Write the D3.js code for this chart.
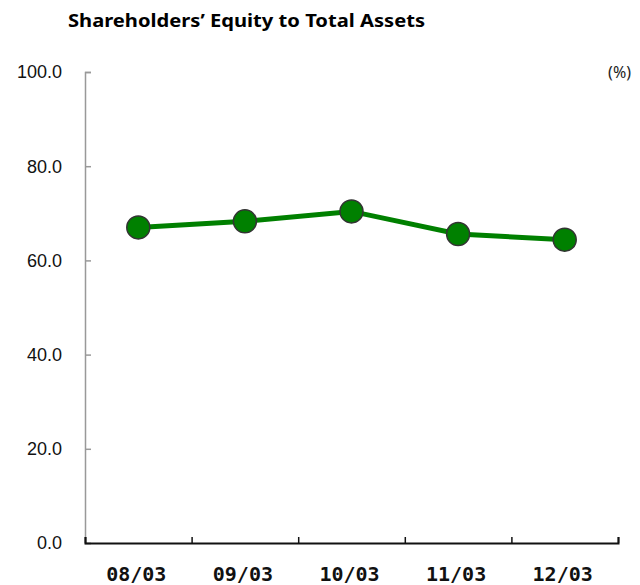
<!DOCTYPE html>
<html lang="en">
<head>
    <meta charset="UTF-8">
    <title>Shareholders' Equity to Total Assets</title>
    <style>
        body { margin: 0; background: #fff; }
        svg { display: block; }
    </style>
</head>
<body>
    <svg id="chart" width="640" height="585"></svg>
    <script src="https://d3js.org/d3.v7.min.js"></script>
    <script>
        // Data
        var periods = ["08/03", "09/03", "10/03", "11/03", "12/03"];
        var equityRatio = [67.0, 68.3, 70.4, 65.6, 64.4];
        var yTicks = [0, 20, 40, 60, 80, 100];

        var margin = { top: 72, right: 22, bottom: 42, left: 85 },
            width = 640 - margin.left - margin.right,
            height = 585 - margin.top - margin.bottom;

        var svg = d3.select("#chart");

        // Title
        svg.append("text")
            .attr("x", 68)
            .attr("y", 27)
            .style("font-family", "'Noto Sans', sans-serif")
            .style("font-weight", "bold")
            .style("font-size", "18px")
            .attr("textLength", 357)
            .attr("lengthAdjust", "spacingAndGlyphs")
            .text("Shareholders’ Equity to Total Assets");

        // Unit label
        svg.append("text")
            .attr("x", 631)
            .attr("y", 78)
            .style("text-anchor", "end")
            .style("font-family", "'Noto Sans', sans-serif")
            .style("font-size", "16px")
            .style("fill", "#222")
            .text("(%)");

        var g = svg.append("g")
            .attr("transform", "translate(" + margin.left + "," + margin.top + ")");

        var x = d3.scaleBand()
            .domain(periods)
            .range([0, width]);

        var y = d3.scaleLinear()
            .domain([0, 100])
            .range([height, 0]);

        // Y axis (gray, ticks pointing inward)
        var yAxis = g.append("g")
            .call(d3.axisRight(y).tickValues(yTicks).tickSize(6).tickFormat(""));
        yAxis.select(".domain").attr("stroke", "#999").attr("stroke-width", 1.5);
        yAxis.selectAll(".tick line").attr("stroke", "#999").attr("stroke-width", 1.5);

        // Y labels
        g.selectAll(".ylabel")
            .data(yTicks)
            .enter().append("text")
            .attr("class", "ylabel")
            .attr("x", -23)
            .attr("y", function(d) { return y(d); })
            .attr("dy", "0.36em")
            .style("text-anchor", "end")
            .style("font-family", "'Liberation Sans', Arial, sans-serif")
            .style("font-size", "18px")
            .style("fill", "#111")
            .text(function(d) { return d.toFixed(1); });

        // X axis (black, ticks at band boundaries pointing up)
        var xEdge = d3.scaleLinear().domain([0, periods.length]).range([0, width]);
        var xAxis = g.append("g")
            .attr("transform", "translate(0," + height + ")")
            .call(d3.axisTop(xEdge).ticks(periods.length).tickSize(6).tickSizeOuter(6).tickFormat(""));
        xAxis.select(".domain").attr("stroke", "#111").attr("stroke-width", 2);
        xAxis.selectAll(".tick line").attr("stroke", "#111").attr("stroke-width", 1.5);

        // X labels
        g.selectAll(".xlabel")
            .data(periods)
            .enter().append("text")
            .attr("class", "xlabel")
            .attr("x", function(d) { return x(d) + x.bandwidth() / 2 - 2; })
            .attr("y", height + 38)
            .style("text-anchor", "middle")
            .style("font-family", "'DejaVu Sans Mono', monospace")
            .style("font-weight", "bold")
            .style("font-size", "20px")
            .style("fill", "#111")
            .text(function(d) { return d; });

        // Line
        var line = d3.line()
            .x(function(d, i) { return x(periods[i]) + x.bandwidth() / 2; })
            .y(function(d) { return y(d); });

        g.append("path")
            .datum(equityRatio)
            .attr("fill", "none")
            .attr("stroke", "#008000")
            .attr("stroke-width", 5)
            .attr("d", line);

        // Markers
        g.selectAll(".dot")
            .data(equityRatio)
            .enter().append("circle")
            .attr("class", "dot")
            .attr("cx", function(d, i) { return x(periods[i]) + x.bandwidth() / 2; })
            .attr("cy", function(d) { return y(d); })
            .attr("r", 11.5)
            .attr("fill", "#008000")
            .attr("stroke", "#333")
            .attr("stroke-width", 1.5);
    </script>
</body>
</html>
